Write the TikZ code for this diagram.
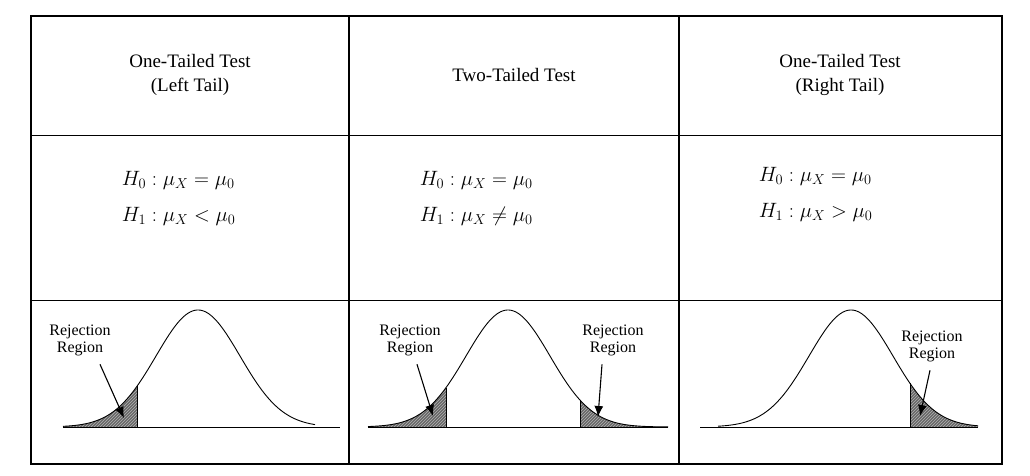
\documentclass[tikz,border=0pt]{standalone}
\usepackage{fontspec}
\setmainfont{Liberation Serif}
\usetikzlibrary{patterns,arrows.meta}
\begin{document}
\begin{tikzpicture}[x=1pt,y=-1pt,line width=0.9pt,
  lbl/.style={font=\fontsize{16}{17}\selectfont,align=center},
  hd/.style={font=\fontsize{19}{24}\selectfont,align=center},
  hy/.style={font=\fontsize{21}{36}\selectfont,align=left,anchor=west},
  tail/.style={fill=black!60},
  hatch/.style={pattern=north east lines,pattern color=black!30},
  arr/.style={-{Latex[length=11pt,width=9pt]},line width=1.1pt}]
\useasboundingbox (0,0) rectangle (1030,476);
\draw[line width=1.4pt] (31,16) rectangle (1002,464);
\draw[line width=1.4pt] (349,16) -- (349,464) (679,16) -- (679,464);
\draw (31,135) -- (1002,135) (31,300) -- (1002,300);
% headers
\node[hd] (h1) at (190,75) {One-Tailed Test\\(Left Tail)};
\node[hd] (h2) at (514,75) {Two-Tailed Test};
\node[hd] (h3) at (840,75) {One-Tailed Test\\(Right Tail)};
% hypotheses
\node[hy] (a1) at (118,198) {$H_0:\mu_X=\mu_0$\\$H_1:\mu_X<\mu_0$};
\node[hy] (a2) at (416,198) {$H_0:\mu_X=\mu_0$\\$H_1:\mu_X\neq\mu_0$};
\node[hy] (a3) at (755,194) {$H_0:\mu_X=\mu_0$\\$H_1:\mu_X>\mu_0$};
% curves
\def\sg{42}
% left
\fill[tail] (63,427) -- plot[domain=63:137,samples=40] (\x,{427-117*exp(-((\x-198)/\sg)^2/2)}) -- (137,427) -- cycle;
\fill[hatch] (63,427) -- plot[domain=63:137,samples=40] (\x,{427-117*exp(-((\x-198)/\sg)^2/2)}) -- (137,427) -- cycle;
\draw (137,427) -- (137,{427-117*exp(-((137-198)/\sg)^2/2)});
\draw plot[domain=63:315,samples=120] (\x,{427-117*exp(-((\x-198)/\sg)^2/2)});
\draw (63,427) -- (340,427);
\node[lbl] (r1) at (80,340) {Rejection\\Region};
\coordinate (t1) at (124,418);
\draw[arr] (r1.south)++(20,5) -- (t1);
% middle
\fill[tail] (368,427) -- plot[domain=368:446,samples=40] (\x,{427-117*exp(-((\x-508)/\sg)^2/2)}) -- (446,427) -- cycle;
\fill[hatch] (368,427) -- plot[domain=368:446,samples=40] (\x,{427-117*exp(-((\x-508)/\sg)^2/2)}) -- (446,427) -- cycle;
\fill[tail] (580,427) -- plot[domain=580:668,samples=40] (\x,{427-117*exp(-((\x-508)/\sg)^2/2)}) -- (668,427) -- cycle;
\fill[hatch] (580,427) -- plot[domain=580:668,samples=40] (\x,{427-117*exp(-((\x-508)/\sg)^2/2)}) -- (668,427) -- cycle;
\draw (446,427) -- (446,{427-117*exp(-((446-508)/\sg)^2/2)});
\draw (580,427) -- (580,{427-117*exp(-((580-508)/\sg)^2/2)});
\draw plot[domain=368:668,samples=150] (\x,{427-117*exp(-((\x-508)/\sg)^2/2)});
\draw (368,427) -- (668,427);
\node[lbl] (r2) at (410,340) {Rejection\\Region};
\node[lbl] (r3) at (613,340) {Rejection\\Region};
\coordinate (t2) at (433,416);
\coordinate (t3) at (598,417);
\draw[arr] (r2.south)++(7,5) -- (t2);
\draw[arr] (r3.south)++(-11,5) -- (t3);
% right
\fill[tail] (910,427) -- plot[domain=910:978,samples=40] (\x,{427-117*exp(-((\x-851)/\sg)^2/2)}) -- (978,427) -- cycle;
\fill[hatch] (910,427) -- plot[domain=910:978,samples=40] (\x,{427-117*exp(-((\x-851)/\sg)^2/2)}) -- (978,427) -- cycle;
\draw (910,427) -- (910,{427-117*exp(-((910-851)/\sg)^2/2)});
\draw plot[domain=718:978,samples=120] (\x,{427-117*exp(-((\x-851)/\sg)^2/2)});
\draw (700,427) -- (978,427);
\node[lbl] (r4) at (932,346) {Rejection\\Region};
\coordinate (t4) at (920,416);
\draw[arr] (r4.south)++(-2,5) -- (t4);
\end{tikzpicture}
\end{document}
